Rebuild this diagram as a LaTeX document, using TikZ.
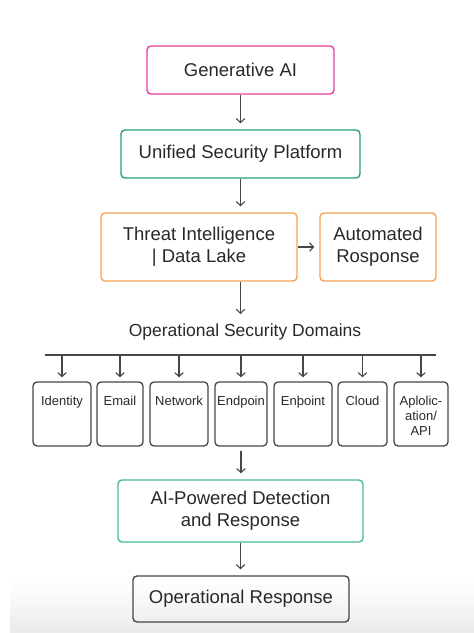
\documentclass[tikz,border=0pt]{standalone}
\usepackage{fontspec}
\setmainfont{Liberation Sans}
\usetikzlibrary{positioning, arrows.meta}
\definecolor{genpink}{RGB}{231,62,163}
\definecolor{platteal}{RGB}{38,158,128}
\definecolor{lakeorange}{RGB}{247,161,82}
\definecolor{detgreen}{RGB}{70,186,152}
\definecolor{inkgray}{RGB}{40,40,40}
\definecolor{linegray}{RGB}{70,70,70}
\tikzset{>={Straight Barb[length=4pt, width=8.5pt]}}
\tikzset{
  box/.style={draw=#1, line width=1.4pt, rounded corners=4pt, align=center,
    text=inkgray, font=\fontsize{18.5}{22}\selectfont, inner sep=0pt},
  dombox/.style={draw=linegray, line width=1.3pt, rounded corners=4pt,
    minimum height=64pt, inner sep=0pt},
  domlabel/.style={align=center, text=inkgray, font=\fontsize{13}{15}\selectfont,
    inner sep=0pt, anchor=north},
  flow/.style={->, linegray, line width=1.1pt},
}

\begin{document}
\begin{tikzpicture}[x=1pt, y=-1pt]
    \useasboundingbox (0,0) rectangle (474,633);
    \shade[top color=white, bottom color=black!8] (10,580) rectangle (474,633);
    % main chain
    \node[box=genpink, minimum width=187pt, minimum height=48pt] (gen) at (240.5,70) {Generative AI};
    \node[box=platteal, minimum width=239pt, minimum height=48pt] (usp) at (240.5,154) {Unified Security Platform};
    \node[box=lakeorange, minimum width=196pt, minimum height=68pt] (threat) at (199,247) {Threat Intelligence\\| Data Lake};
    \node[box=lakeorange, minimum width=116pt, minimum height=68pt] (auto) at (378,247) {Automated\\Rosponse};
    \draw[flow, shorten >=6pt] (gen) -- (usp);
    \draw[flow, shorten >=6pt] (usp) -- (usp.south |- threat.north);
    \draw[flow, shorten >=5pt] (threat) -- (auto);
    \coordinate (hd) at (240.5,314);
    \draw[flow] (threat.south -| hd) -- (hd);
    % domains
    \node[text=inkgray, font=\fontsize{17.5}{20}\selectfont, inner sep=0pt] (osd) at (245,332) {Operational Security Domains};
    \coordinate (busL) at (45,355);
    \coordinate (busR) at (436,355);
    \draw[linegray, line width=1.2pt] (busL) -- (busR);
    \foreach \n/\x/\w/\t in {ident/62/58/Identity, email/120/46/Email, netw/179/58/Network,
        endpoin/241/52/Endpoin, enpoint/303/58/Enþoint, cloud/362.5/49/Cloud,
        applic/421/54/{Aplolic-\\ation/\\API}}
    {
    \node[dombox, minimum width=\w pt] (\n) at (\x,414) {};
    \node[domlabel] (\n-lbl) at ([yshift=-15pt]\n.north) {\t};
    \draw[flow, shorten >=4pt] (\n.north |- busL) -- (\n.north);
    }
    % detection and response
    \node[box=detgreen, minimum width=245pt, minimum height=62pt] (aidr) at (240.5,511) {AI-Powered Detection\\and Response};
    \node[box=linegray, minimum width=216pt, minimum height=46pt] (opresp) at (241,599) {Operational Response};
    \draw[flow, shorten <=4pt, shorten >=6pt] (endpoin.south) -- (endpoin.south |- aidr.north);
    \draw[flow, shorten >=6pt] (aidr) -- (aidr.south |- opresp.north);
\end{tikzpicture}
\end{document}
